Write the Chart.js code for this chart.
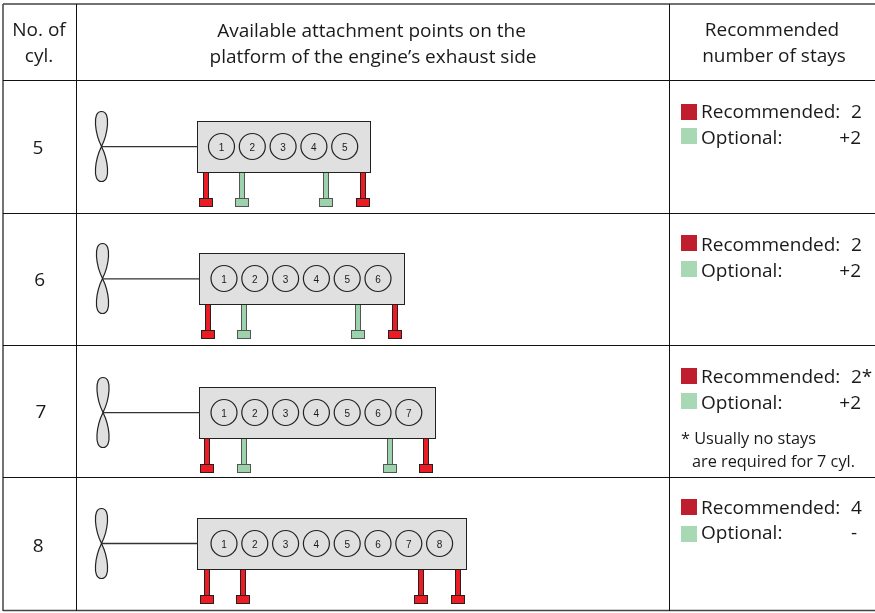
<!DOCTYPE html>
<html>
<head>
<meta charset="utf-8">
<title>Attachment points</title>
<script src="https://cdn.jsdelivr.net/npm/chart.js@4"></script>
<style>
    body { margin: 0; background: #fff; }
    canvas { display: block; }
</style>
</head>
<body>
<canvas id="chart" width="875" height="613"></canvas>
<script>
// Everything in picture units (875 x 613)
const cylinderCounts = [5, 6, 7, 8];
const recommendedStays = ["2", "2", "2*", "4"];
const optionalStays = ["+2", "+2", "+2", "-"];

const rowLines = [80.5, 213.5, 345.5, 477.5];
const engineCentreY = [146.5, 278.5, 412.5, 543.5];
const shaftY = [146.7, 278.8, 412.7, 543.5];
const engineLeft = [197.5, 199.5, 199.5, 197.5];
const engineRight = [370.5, 404.5, 435.5, 466.5];
const propellerX = [101.5, 102.5, 103, 101.5];
const firstCylinderX = [221.5, 224, 224, 224];
const cylinderPitch = [30.8, 30.8, 30.8, 30.8];

const stayRecommended = [[206, 363], [208, 395], [207, 426], [207, 243, 421, 458]];
const stayOptional = [[242, 326], [244, 358], [244, 390], []];

const numberX = [38, 39.7, 41, 38.3];
const numberBaseline = [154, 286, 418, 551.5];
const redSquareTop = [104, 235, 368, 499];
const greenSquareTop = [128, 261, 393, 526];
const recommendedBaseline = [117.7, 251, 382.7, 514];
const optionalBaseline = [143.7, 276.7, 408.7, 539];

const RED = "#ed1c24", GREEN = "#9dd3ac";
const SANS = '"Open Sans", sans-serif';

const x = (c, v) => c.scales.x.getPixelForValue(v);
const y = (c, v) => c.scales.y.getPixelForValue(v);

function drawBox(c, left, top, right, bottom, fill, stroke) {
    const ctx = c.ctx;
    ctx.fillStyle = fill;
    ctx.fillRect(x(c, left), y(c, top), x(c, right) - x(c, left), y(c, bottom) - y(c, top));
    if (stroke) {
        ctx.strokeStyle = stroke;
        ctx.lineWidth = 1;
        ctx.strokeRect(x(c, left), y(c, top), x(c, right) - x(c, left), y(c, bottom) - y(c, top));
    }
}

function drawPropeller(c, px, py) {
    const ctx = c.ctx;
    ctx.beginPath();
    [-1, 1].forEach(dir => {
        ctx.moveTo(x(c, px), y(c, py));
        ctx.bezierCurveTo(x(c, px - 6), y(c, py + dir * 12), x(c, px - 10), y(c, py + dir * 35), x(c, px), y(c, py + dir * 35));
        ctx.bezierCurveTo(x(c, px + 10), y(c, py + dir * 35), x(c, px + 6), y(c, py + dir * 12), x(c, px), y(c, py));
    });
    ctx.fillStyle = "#e0e0e0";
    ctx.strokeStyle = "#222";
    ctx.lineWidth = 1.2;
    ctx.fill();
    ctx.stroke();
}

function drawStay(c, sx, top, colour) {
    const edge = colour === RED ? "#222" : "#555";
    drawBox(c, sx - 2.5, top, sx + 2.5, top + 26, colour, edge);
    drawBox(c, sx - 6.5, top + 26, sx + 6.5, top + 34, colour, edge);
}

function text(c, str, tx, ty, font, align) {
    const ctx = c.ctx;
    ctx.font = font;
    ctx.fillStyle = "#1a1a1a";
    ctx.textAlign = align || "left";
    ctx.textBaseline = "alphabetic";
    ctx.fillText(str, x(c, tx), y(c, ty));
}

const tablePlugin = {
    id: "tablePlugin",
    beforeDatasetsDraw(c) {
        cylinderCounts.forEach((n, i) => {
            const cy = engineCentreY[i];
            drawPropeller(c, propellerX[i], cy);
            stayRecommended[i].forEach(sx => drawStay(c, sx, cy + 26, RED));
            stayOptional[i].forEach(sx => drawStay(c, sx, cy + 26, GREEN));
            drawBox(c, engineLeft[i], cy - 25, engineRight[i], cy + 26, "#e0e0e0", "#222");
        });
    },
    afterDatasetsDraw(c) {
        const head = "19px " + SANS;
        text(c, "No. of", 39, 36, head, "center");
        text(c, "cyl.", 39, 62, head, "center");
        text(c, "Available attachment points on the", 371.5, 37, head, "center");
        text(c, "platform of the engine’s exhaust side", 373, 63, head, "center");
        text(c, "Recommended", 772, 36, head, "center");
        text(c, "number of stays", 774, 62, head, "center");

        cylinderCounts.forEach((n, i) => {
            text(c, String(n), numberX[i], numberBaseline[i], head, "center");
            for (let k = 0; k < n; k++) {
                text(c, String(k + 1), firstCylinderX[i] + k * cylinderPitch[i], engineCentreY[i] + 4, '10px "Liberation Sans"', "center");
            }
            drawBox(c, 681, redSquareTop[i], 697, redSquareTop[i] + 16, "#be1e2d");
            drawBox(c, 681, greenSquareTop[i], 697, greenSquareTop[i] + 16, "#a9d8b5");
            text(c, "Recommended:", 701, recommendedBaseline[i], head);
            text(c, "Optional:", 701, optionalBaseline[i], head);
            text(c, recommendedStays[i], 851, recommendedBaseline[i], head);
            text(c, optionalStays[i], optionalStays[i] === "-" ? 857 : 861, optionalBaseline[i], head, "right");
        });
        const note = "16.3px " + SANS;
        text(c, "* Usually no stays", 681, 444, note);
        text(c, "are required for 7 cyl.", 692, 467, note);
    }
};

// Table rules, null breaks the line between segments
const framePoints = [
    {x: 3, y: 4}, {x: 875, y: 4}, {x: null, y: null},
    {x: 3, y: 610.5}, {x: 875, y: 610.5}, {x: null, y: null},
    {x: 3, y: 4}, {x: 3, y: 611}
];
const gridPoints = [
    {x: 76.5, y: 4}, {x: 76.5, y: 611}, {x: null, y: null},
    {x: 669.5, y: 4}, {x: 669.5, y: 611}, {x: null, y: null}
];
rowLines.forEach(ly => gridPoints.push({x: 3, y: ly}, {x: 875, y: ly}, {x: null, y: null}));

const shaftPoints = [];
const cylinderPoints = [];
cylinderCounts.forEach((n, i) => {
    shaftPoints.push({x: propellerX[i], y: shaftY[i]}, {x: engineLeft[i], y: shaftY[i]}, {x: null, y: null});
    for (let k = 0; k < n; k++) {
        cylinderPoints.push({x: firstCylinderX[i] + k * cylinderPitch[i], y: engineCentreY[i]});
    }
});

new Chart(document.getElementById("chart").getContext("2d"), {
    type: "scatter",
    data: {
        datasets: [
            {
                label: "Cylinders",
                data: cylinderPoints,
                pointRadius: 13,
                pointBackgroundColor: "#e0e0e0",
                pointBorderColor: "#222",
                pointBorderWidth: 1.2
            },
            {
                label: "Shaft",
                data: shaftPoints,
                showLine: true,
                spanGaps: false,
                borderColor: "#333",
                borderWidth: 1.3,
                pointRadius: 0
            },
            {
                label: "Table",
                data: gridPoints,
                showLine: true,
                spanGaps: false,
                borderColor: "#111",
                borderWidth: 1,
                pointRadius: 0
            },
            {
                label: "Frame",
                data: framePoints,
                showLine: true,
                spanGaps: false,
                borderColor: "#444",
                borderWidth: 1.5,
                pointRadius: 0
            }
        ]
    },
    options: {
        responsive: false,
        animation: false,
        layout: { padding: 0, autoPadding: false },
        plugins: { legend: { display: false }, tooltip: { enabled: false } },
        scales: {
            x: { type: "linear", display: false, min: 0, max: 875 },
            y: { type: "linear", display: false, min: 0, max: 613, reverse: true }
        }
    },
    plugins: [tablePlugin]
});
</script>
</body>
</html>
